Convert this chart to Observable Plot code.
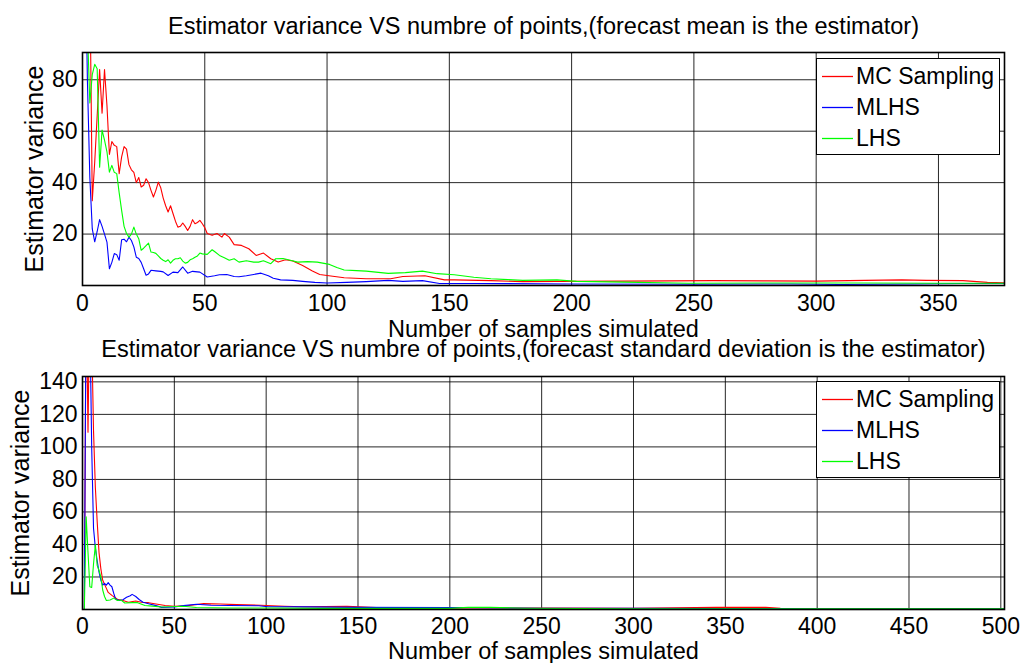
<!DOCTYPE html>
<html><head><meta charset="utf-8">
<script src="https://cdn.jsdelivr.net/npm/d3@7"></script>
<script src="https://cdn.jsdelivr.net/npm/@observablehq/plot@0.6"></script>
<style>
body{margin:0;background:#fff;font-family:"Liberation Sans",Arial,sans-serif;}
#wrap{position:relative;width:1033px;height:663px;overflow:hidden;background:#fff;}
#wrap > svg{position:absolute;left:0;}
.legend{position:absolute;border:1.5px solid #000;background:#fff;box-sizing:border-box;font-size:23px;color:#000;}
.row{position:absolute;left:5px;height:30px;display:flex;align-items:center;white-space:nowrap;}
.row svg{display:block;margin-right:3px;}
</style></head><body><div id="wrap"></div><script>
// ---------------- data ----------------
const seriesNames = ["MC Sampling", "MLHS", "LHS"];
const seriesColors = ["#ff0000", "#0000ff", "#00ff00"];

const topTitle = "Estimator variance VS numbre of points,(forecast mean is the estimator)";
const bottomTitle = "Estimator variance VS numbre of points,(forecast standard deviation is the estimator)";
const xLabel = "Number of samples simulated";
const yLabel = "Estimator variance";

const topXTicks = [0, 50, 100, 150, 200, 250, 300, 350];
const topYTicks = [20, 40, 60, 80];
const bottomXTicks = [0, 50, 100, 150, 200, 250, 300, 350, 400, 450, 500];
const bottomYTicks = [20, 40, 60, 80, 100, 120, 140];

// Top chart (forecast mean)
const topMC = [[1,200],[2,150],[3,120],[4,33],[5,48],[6,66],[7,84],[8,67],[9,84],[10,70],[11,51],[12,56],[13,54.5],[14,54],[15,43.5],[16,50],[17,54],[18,53],[19,47],[20,45],[21,44],[22,40],[23,42],[24,38.3],[25,39],[26,41.5],[27,40],[28,37],[29,34.4],[30,37],[31,40.2],[32,38],[33,34],[34,31],[35,28.6],[36,31],[37,28],[38,25],[39,22.7],[40,23],[41,24.3],[42,23],[43,21.4],[44,23],[45,25.6],[46,24],[47,24.5],[48,25.3],[49,24],[50,22.5],[51,20.2],[53,19.5],[55,20.2],[57,18.8],[58,20.2],[60,18.8],[62,15.9],[65,15.6],[68,14.3],[71,11.7],[74,12.6],[77,10.4],[80,9.1],[83,10],[86,9.5],[90,7.8],[94,5.6],[97,4.3],[100,3.9],[107,3.0],[116,2.6],[126,2.6],[131,3.5],[140,3.8],[148,2.2],[152,2.2],[167,1.9],[180,1.5],[194,1.6],[221,1.7],[240,1.8],[258,1.9],[280,1.8],[300,1.7],[320,2.0],[335,2.2],[345,2.0],[360,1.9],[370,1.2],[377,1.0]];
const topMLHS = [[1,140],[2,80],[3,42],[4,22],[5,17],[6,21],[7,25.6],[8,23],[9,20],[10,16.9],[11,6.5],[12,9],[13,12.4],[14,12],[15,9.8],[16,17.8],[17,18],[18,17],[19,18.8],[20,17.5],[21,15],[22,11],[23,10.5],[24,9],[25,6.5],[26,4],[27,4.5],[28,5.9],[30,5.7],[32,5.5],[33,5.3],[35,3.9],[37,5.2],[39,5.0],[41,7.2],[43,4.8],[45,5.5],[48,5.2],[51,3.3],[54,3.8],[56,4.2],[59,4.3],[62,3.5],[64,3.4],[67,3.8],[70,4.3],[73,4.8],[76,3.8],[78,2.8],[81,2.2],[86,2.0],[90,1.6],[95,1.2],[100,1.0],[108,1.2],[116,1.5],[125,2.0],[131,1.6],[139,1.9],[146,0.8],[160,0.8],[200,0.6],[250,0.5],[290,0.6],[310,0.4],[340,0.6],[360,0.8],[377,0.8]];
const topLHS = [[1,150],[2,100],[3,71],[4,82],[5,86],[6,84.3],[7,46],[8,60.4],[9,56.5],[10,52],[11,44.1],[12,46.7],[13,44],[14,43.5],[15,36],[16,29.2],[17,23],[18,20.2],[19,18.8],[20,20],[21,22.7],[22,20],[23,18.2],[24,13.7],[25,14.5],[26,15.5],[27,16.5],[28,13],[29,12.8],[30,12.5],[31,11.5],[32,10.5],[33,9.8],[34,9.3],[35,10],[36,8.7],[37,9.8],[38,10.4],[39,10.4],[40,10.8],[41,9.5],[42,8.7],[43,9],[44,10],[45,10.4],[46,11],[47,11.5],[48,12.6],[49,12.3],[51,12.1],[53,13.9],[54,13.2],[56,11.7],[58,10.8],[60,9.8],[62,10.4],[64,9.1],[67,9.6],[70,9.1],[72,9.1],[74,9.6],[77,8.5],[79,10.4],[82,10.5],[85,9.8],[88,9.1],[92,9.3],[96,9.1],[101,8.2],[104,7.0],[107,6.0],[112,5.8],[116,5.6],[120,5.2],[125,4.7],[132,5.0],[139,5.6],[145,4.6],[152,4.2],[160,3.2],[167,2.6],[174,2.3],[180,2.0],[194,2.2],[202,1.6],[221,1.3],[248,0.9],[280,1.0],[320,1.0],[350,0.9],[377,0.9]];

// Bottom chart (forecast standard deviation)
const botMC = [[1,0],[2,200],[3,109],[4,200],[5,170],[6,110],[7,75],[8,54],[9,35],[10,25],[11,18],[12,15.5],[13,13],[14,10.5],[16,8.7],[19,6.3],[22,5.5],[25,4.5],[29,5.2],[32,4.5],[36,4.2],[40,3.4],[45,2.5],[50,2.0],[57,2.3],[66,3.6],[75,3.4],[84,3.0],[97,2.6],[110,2.0],[120,1.7],[144,1.9],[160,1.2],[200,1.0],[250,0.9],[300,0.8],[345,1.3],[372,1.3],[380,0.8],[450,0.6],[503,0.6]];
const botMLHS = [[1,0],[2,200],[3,250],[4,180],[5,100],[6,50],[7,38],[8,30],[9,23],[10,18],[11,15],[12,16],[13,15],[14,16.5],[15,15],[16,14],[17,10],[18,6.5],[20,5.5],[22,6],[24,7.5],[26,8.5],[27,9.3],[29,8],[31,6],[33,4.5],[36,3.5],[40,2.4],[43,1.3],[50,1.5],[55,2.4],[62,3.2],[70,2.6],[80,2.5],[96,2.3],[101,1.7],[120,1.6],[150,1.3],[200,1.2],[250,0.8],[300,0.8],[350,0.6],[400,0.5],[450,0.4],[503,0.4]];
const botLHS = [[1,0],[2,57],[3,35],[4,14],[5,13.5],[6,28],[7,40],[8,27],[9,24],[10,20],[11,12],[12,8],[13,5.5],[15,5.8],[17,7],[19,5.5],[21,5.8],[23,4],[27,4.2],[30,4.2],[34,2.5],[38,2.1],[43,1.5],[55,2.0],[62,1.2],[80,0.9],[100,0.9],[130,0.7],[200,0.7],[210,1.3],[222,1.3],[240,0.8],[300,0.5],[400,0.5],[503,0.5]];

// ---------------- drawing ----------------
const FONT = '"Liberation Sans", Arial, sans-serif';
const wrap = document.getElementById("wrap");

function makeChart(cfg) {
  const lines = cfg.series.map((s, i) =>
    Plot.line(s, {x: d => d[0], y: d => d[1], stroke: seriesColors[i], strokeWidth: 1.1, clip: true}));
  return Plot.plot({
    width: 1033,
    height: cfg.height,
    marginLeft: 82,
    marginRight: 29,
    marginTop: cfg.marginTop,
    marginBottom: cfg.marginBottom,
    style: {fontFamily: FONT, fontSize: "23px", color: "#000", background: cfg.bg, overflow: "visible"},
    x: {domain: cfg.xDomain},
    y: {domain: cfg.yDomain},
    marks: [
      Plot.gridX(cfg.xTicks, {stroke: "#000", strokeOpacity: 0.85, strokeWidth: 1}),
      Plot.gridY(cfg.yTicks, {stroke: "#000", strokeOpacity: 0.85, strokeWidth: 1}),
      ...lines,
      Plot.frame({stroke: "#000", strokeWidth: 1.6}),
      Plot.axisX({ticks: cfg.xTicks, tickSize: 0, tickPadding: cfg.xPad, label: null, fontSize: 23}),
      Plot.axisY({ticks: cfg.yTicks, tickSize: 0, tickPadding: 5, label: null, fontSize: 23}),
      Plot.text([cfg.title], {text: d => d, frameAnchor: "top", textAnchor: "middle", lineAnchor: "bottom", dy: cfg.titleDy, fontSize: 23.5, fill: "#000"}),
      Plot.text([xLabel], {text: d => d, frameAnchor: "bottom", textAnchor: "middle", lineAnchor: "bottom", dy: cfg.xlabelDy, fontSize: 23.5, fill: "#000"}),
      Plot.text([yLabel], {text: d => d, frameAnchor: "left", textAnchor: "middle", lineAnchor: "middle", rotate: -90, dx: cfg.ylabelDx, fontSize: 25, fill: "#000"})
    ]
  });
}

const top1 = makeChart({
  series: [topMC, topMLHS, topLHS], height: 345, marginTop: 52, marginBottom: 60,
  xDomain: [0, 377], yDomain: [0, 90.6], xTicks: topXTicks, yTicks: topYTicks,
  title: topTitle, titleDy: -19, xlabelDy: 51, ylabelDx: -48, xPad: 9, bg: "white"
});
top1.style.top = "0px";
wrap.appendChild(top1);

const bot = makeChart({
  series: [botMC, botMLHS, botLHS], height: 333, marginTop: 46, marginBottom: 54,
  xDomain: [0, 502], yDomain: [0, 143.3], xTicks: bottomXTicks, yTicks: bottomYTicks,
  title: bottomTitle, titleDy: -19.5, xlabelDy: 49, ylabelDx: -62, xPad: 8.5, bg: "transparent"
});
bot.style.top = "330px";
wrap.appendChild(bot);

const NS = "http://www.w3.org/2000/svg";
function addLegend(left, top, width, height, centers) {
  const box = document.createElement("div");
  box.className = "legend";
  Object.assign(box.style, {left: left + "px", top: top + "px", width: width + "px", height: height + "px"});
  seriesNames.forEach((name, i) => {
    const row = document.createElement("div");
    row.className = "row";
    row.style.top = (centers[i] - 15) + "px";
    const sw = document.createElementNS(NS, "svg");
    sw.setAttribute("width", "31");
    sw.setAttribute("height", "3");
    const ln = document.createElementNS(NS, "line");
    ln.setAttribute("x1", "0"); ln.setAttribute("x2", "31");
    ln.setAttribute("y1", "1.5"); ln.setAttribute("y2", "1.5");
    ln.setAttribute("stroke", seriesColors[i]);
    ln.setAttribute("stroke-width", "1.3");
    sw.appendChild(ln);
    const t = document.createElement("span");
    t.textContent = name;
    row.appendChild(sw); row.appendChild(t);
    box.appendChild(row);
  });
  wrap.appendChild(box);
}
addLegend(816, 58, 184, 97, [17, 48, 79]);
addLegend(816, 381, 184, 97, [17, 48, 79]);
</script></body></html>
